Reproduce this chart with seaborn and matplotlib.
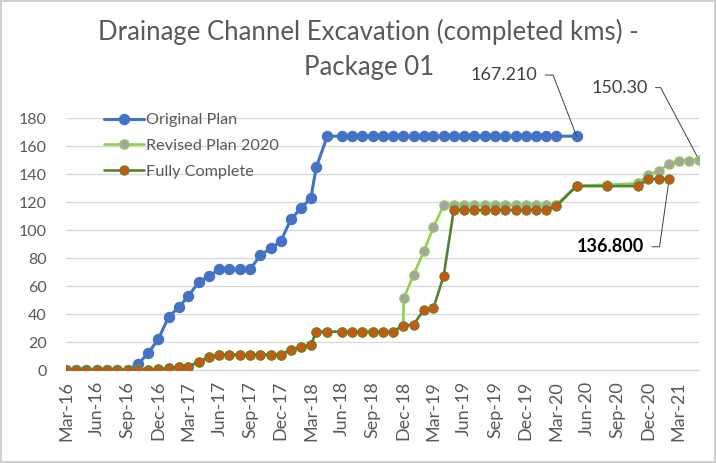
import matplotlib
matplotlib.use("Agg")
import matplotlib.pyplot as plt
import matplotlib.dates as mdates
import pandas as pd
import seaborn as sns

sns.set_theme(style="white")
plt.rcParams["font.family"] = ["Lato", "DejaVu Sans"]

# dates shared by all three series up to Nov-18 (no May-18 row, two mid-month rows)
dates_to_nov18 = [
    "2016-03-01", "2016-04-01", "2016-05-01", "2016-06-01", "2016-07-01", "2016-08-01",
    "2016-09-01", "2016-10-01", "2016-11-01", "2016-12-01", "2017-01-01", "2017-02-01",
    "2017-03-01", "2017-04-01", "2017-05-01", "2017-06-01", "2017-07-01", "2017-08-01",
    "2017-09-01", "2017-10-01", "2017-11-01", "2017-12-01", "2018-01-01", "2018-02-01",
    "2018-03-01", "2018-03-17", "2018-04-19", "2018-06-01", "2018-07-01", "2018-08-01",
    "2018-09-01", "2018-10-01", "2018-11-01",
]
dates_dec18_mar20 = [
    "2018-12-01", "2019-01-01", "2019-02-01", "2019-03-01", "2019-04-01", "2019-05-01",
    "2019-06-01", "2019-07-01", "2019-08-01", "2019-09-01", "2019-10-01", "2019-11-01",
    "2019-12-01", "2020-01-01", "2020-02-01", "2020-03-01",
]
dates_revised_jump = ["2018-12-01", "2018-12-03"]
dates_late_actual = ["2020-05-01", "2020-08-01", "2020-11-01", "2020-12-01", "2021-01-01", "2021-02-01"]
dates_late_revised = ["2020-05-01", "2020-08-01", "2020-11-01", "2020-12-01", "2021-01-01",
                      "2021-02-01", "2021-03-01", "2021-04-01", "2021-05-01"]

plan_dates = dates_to_nov18 + dates_dec18_mar20 + ["2020-05-01"]
plan_kms = ([0, 0, 0, 0, 0, 0, 0, 4, 12, 22, 38, 45, 53, 63, 67, 72, 72, 72, 72, 82, 87, 92,
             108, 116, 123, 145, 167.21] + [167.21] * 6 + [167.21] * 16 + [167.21])

complete_dates = dates_to_nov18 + dates_dec18_mar20 + dates_late_actual
complete_kms = ([0] * 9 + [0.5, 1.5, 2, 2.3, 6, 9] + [11] * 7 + [14.5, 16.5, 17.8] + [27.4] * 8
                + [31.8, 32.5, 43, 44, 67.5, 114.5] + [114.5] * 9 + [117]
                + [131.5, 131.5, 131.5, 136.5, 136.8, 136.8])

revised_dates = dates_to_nov18 + dates_revised_jump + dates_dec18_mar20[1:] + dates_late_revised
revised_kms = ([0] * 9 + [0.5, 1.5, 2, 2.3, 6, 9] + [11] * 7 + [14.5, 16.5, 17.8] + [27.4] * 8
               + [31.8, 51.3] + [68, 85, 102, 118] + [118] * 11
               + [131.8, 132.5, 133.5, 139.5, 142.6, 147.1, 149.6, 149.8, 150.3])

text_grey = "#595959"

fig = plt.figure(figsize=(7.16, 4.63), dpi=100)
fig.patch.set_edgecolor("#D0D0D0")
fig.patch.set_linewidth(1.5)
ax = fig.add_axes([66 / 716, 1 - 370 / 463, (699 - 66) / 716, (370 - 118.3) / 463])

sns.lineplot(x=pd.to_datetime(plan_dates), y=plan_kms, ax=ax, color="#4472C4", lw=2.2,
             marker="o", markersize=7.4, mec="#4472C4", mew=0.8, estimator=None, sort=False,
             label="Original Plan", zorder=3)
sns.lineplot(x=pd.to_datetime(revised_dates), y=revised_kms, ax=ax, color="#92D050", lw=1.9,
             marker="o", markersize=6.8, mfc="#A5A5A5", mec="#92D050", mew=0.8, estimator=None,
             sort=False, label="Revised Plan 2020", zorder=4)
sns.lineplot(x=pd.to_datetime(complete_dates), y=complete_kms, ax=ax, color="#548235", lw=1.9,
             marker="o", markersize=6.8, mfc="#C55A11", mec="#548235", mew=0.6, estimator=None,
             sort=False, label="Fully Complete", zorder=5)

ax.set_xlim(pd.Timestamp("2016-03-01"), pd.Timestamp("2021-05-01"))
ax.set_ylim(0, 180)
ax.set_yticks(range(0, 181, 20))
ax.xaxis.set_major_locator(mdates.MonthLocator(bymonth=[3, 6, 9, 12]))
ax.xaxis.set_major_formatter(mdates.DateFormatter("%b-%y"))
ax.tick_params(axis="x", length=0, pad=8, labelsize=13, labelcolor=text_grey, labelrotation=90)
ax.tick_params(axis="y", length=0, pad=14, labelsize=11.5, labelcolor=text_grey)
ax.set_xlabel("")
ax.set_ylabel("")
ax.yaxis.grid(True, color="#D9D9D9", lw=1.0)
ax.xaxis.grid(False)
for side in ["left", "right", "top"]:
    ax.spines[side].set_visible(False)
ax.spines["bottom"].set_color("#D9D9D9")
ax.spines["bottom"].set_linewidth(1.0)

leg = ax.legend(loc="upper left", bbox_to_anchor=(104 / 716, 1 - 113 / 463),
                bbox_transform=fig.transFigure, frameon=False, fontsize=11.7,
                handlelength=2.45, handletextpad=0.15, labelspacing=0.7, borderpad=0,
                borderaxespad=0)
for t in leg.get_texts():
    t.set_color(text_grey)

fig.text(0.515, 1 - 32 / 463, "Drainage Channel Excavation (completed kms) -", ha="center",
         va="center", fontsize=18.5, color=text_grey)
fig.text(0.515, 1 - 68 / 463, "Package 01", ha="center", va="center", fontsize=18.5,
         color=text_grey)

# data labels with leader lines
labels = [
    (plan_dates[-1], plan_kms[-1], f"{plan_kms[-1]:.3f}", (-52, 44), -69, "normal", "#404040"),
    (revised_dates[-1], revised_kms[-1], f"{revised_kms[-1]:.2f}", (-57, 52), -62, "normal", "#404040"),
    (complete_dates[-1], complete_kms[-1], f"{complete_kms[-1]:.3f}", (-42, -49), 82, "bold", "black"),
]
for d, v, txt, off, ang, weight, col in labels:
    ax.annotate(txt, xy=(pd.Timestamp(d), v), xytext=off, textcoords="offset points",
                ha="center", va="center", fontsize=13, fontweight=weight, color=col,
                annotation_clip=False,
                arrowprops=dict(arrowstyle="-", color="#404040", lw=0.7, relpos=(1, 0.5),
                                shrinkA=3, shrinkB=0,
                                connectionstyle=f"angle,angleA=0,angleB={ang},rad=0"))

fig.savefig("out.png", dpi=100)
